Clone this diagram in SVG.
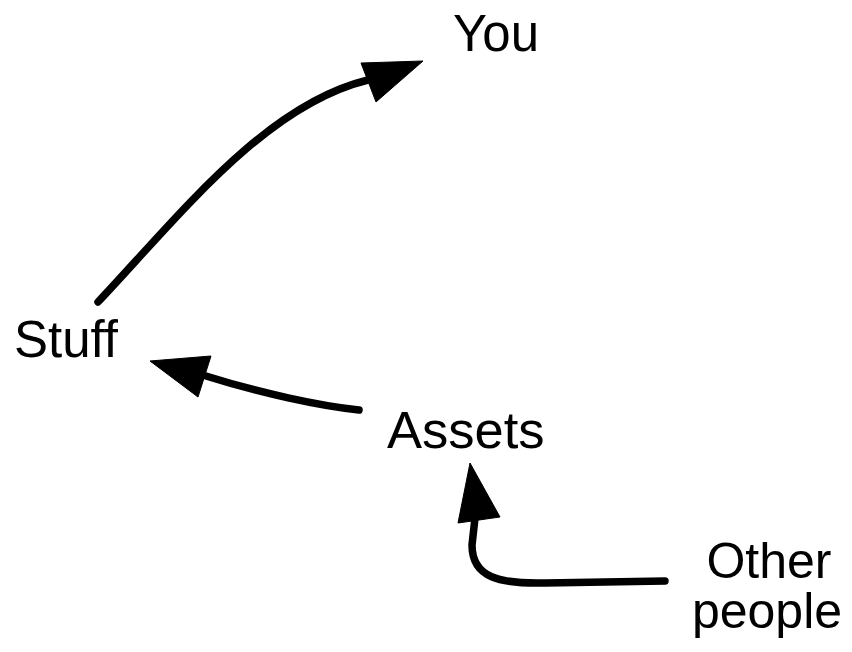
<svg xmlns="http://www.w3.org/2000/svg" width="852" height="652" viewBox="0 0 852 652">
<style>
.lbl{font-family:"Liberation Sans",Arial,Helvetica,sans-serif;font-size:51px;fill:#000}
.ln{fill:none;stroke:#000;stroke-width:7.5;stroke-linecap:round}
.hd{fill:#000;stroke:#000;stroke-width:1;stroke-linejoin:round}
</style>
<rect width="852" height="652" fill="#fff"/>
<g id="connectors">
<path class="ln" d="M98,302 C180,215 265,105 368,80"/>
<polygon class="hd" points="361,63 423,61 376,102"/>
<path class="ln" d="M359,410 C320,406 260,393 206,376"/>
<polygon class="hd" points="150,361 211,356 198,397"/>
<path class="ln" d="M665,581 L545,583 C500,584 472,578 472,545 L475,518"/>
<polygon class="hd" points="470,463 458,523 500,517"/>
</g>
<g id="you"><text class="lbl" x="453" y="51">You</text></g>
<g id="stuff"><text class="lbl" x="14" y="357">Stuff</text></g>
<g id="assets"><text class="lbl" x="387" y="448" style="font-size:52.5px">Assets</text></g>
<g id="other-people"><text class="lbl" x="769" y="578" text-anchor="middle" style="font-size:50px">Other</text><text class="lbl" x="767" y="628" text-anchor="middle" style="font-size:50px">people</text></g>
</svg>
